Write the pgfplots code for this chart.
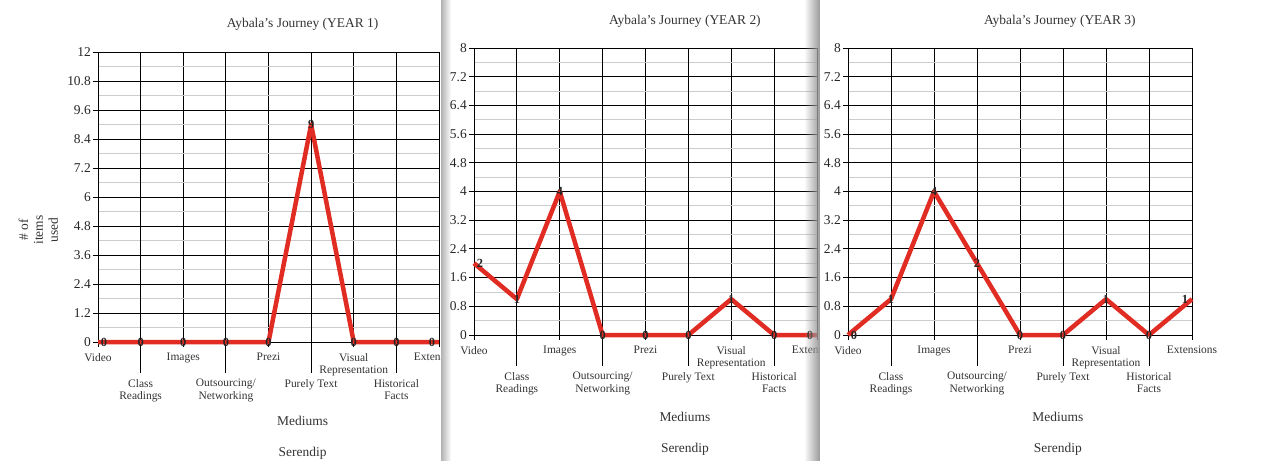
\documentclass[border=0pt]{standalone}
\usepackage{fontspec}
\setmainfont{Liberation Serif}
\usepackage{pgfplots}
\pgfplotsset{compat=1.18}
\usepackage{pgfplotstable}
\usetikzlibrary{fadings}

\definecolor{linered}{RGB}{224,44,34}

% dx = horizontal shift of the value label (bp)
\pgfplotstableread{
x y dx
0 0 6
1 0 0
2 0 0
3 0 0
4 0 0
5 9 0
6 0 0
7 0 0
8 0 -7
}\yearone

\pgfplotstableread{
x y dx
0 2 6
1 1 0
2 4 0
3 0 0
4 0 0
5 0 0
6 1 0
7 0 0
8 0 -7
}\yeartwo

\pgfplotstableread{
x y dx
0 0 6
1 1 0
2 4 0
3 2 0
4 0 0
5 0 0
6 1 0
7 0 0
8 1 -7
}\yearthree

\pgfplotsset{
  journey/.style={
    scale only axis, anchor=south west, clip=false,
    xmin=0, xmax=8, ymin=0,
    axis line style={black, line width=0.9bp},
    every tick/.style={black, line width=0.9bp},
    tick align=outside, xtick pos=bottom, ytick pos=left,
    major tick length=5bp, minor tick length=0bp,
    xtick={0,2,4,6,8},
    xticklabels={Video,Images,Prezi,Visual\\Representation,Extensions},
    extra x ticks={1,3,5,7},
    extra x tick labels={Class\\Readings,Outsourcing/\\Networking,Purely Text,Historical\\Facts},
    extra x tick style={major tick length=31bp},
    xticklabel style={font=\fontsize{11.5}{12.3}\selectfont, align=center, text=black!80,
      inner sep=1bp, yshift=-5bp},
    yticklabel style={font=\fontsize{13.5}{13.5}\selectfont, text=black!85, inner sep=2bp},
    /pgf/number format/assume math mode=true,
    xmajorgrids, ymajorgrids, yminorgrids, minor y tick num=1,
    major grid style={black, line width=0.9bp},
    minor grid style={black!20, line width=0.8bp},
    title style={font=\fontsize{13.5}{14}\selectfont, text=black!80, anchor=base},
    xlabel style={font=\fontsize{13.5}{14}\selectfont, text=black!80, anchor=center},
  },
  redline/.style={linered, line width=4.5bp, line join=round, no markers,
    nodes near coords, point meta=\thisrow{y},
    visualization depends on={\thisrow{dx}\as\dx},
    every node near coord/.append style={anchor=center, xshift={\dx*1bp},
      font=\bfseries\fontsize{12.5}{12.5}\selectfont, text=black!85, inner sep=0pt}},
}

\begin{document}
\begin{tikzpicture}
\useasboundingbox (0,0) rectangle (1265bp,-461bp);

% YEAR 1
\begin{axis}[journey,
    at={(98bp,-342bp)}, width=341bp, height=290bp,
    ymax=12, ytick={0,1.2,2.4,3.6,4.8,6,7.2,8.4,9.6,10.8,12},
    title={Aybala's Journey (YEAR 1)}, title style={at={(0.6,1.064)}},
    xlabel={Mediums}, xlabel style={at={(0.6,-0.272)}},
    ylabel={\# of\\items\\used},
    ylabel style={at={(-0.175,0.386)}, anchor=center, align=center,
      font=\fontsize{13.5}{15}\selectfont, text=black!80},
]
\addplot[redline] table[x=x, y=y] {\yearone};
\node[font=\fontsize{13.5}{14}\selectfont, text=black!80] at (rel axis cs:0.6,-0.383) {Serendip};
\end{axis}

% second sheet
\fill[white] (441bp,0) rectangle (820bp,-461bp);
\fill[black!30, path fading=east] (441bp,0) rectangle (451bp,-461bp);

% YEAR 2
\begin{axis}[journey,
    at={(474bp,-335bp)}, width=343bp, height=287bp,
    ymax=8, ytick={0,0.8,1.6,2.4,3.2,4,4.8,5.6,6.4,7.2,8},
    title={Aybala's Journey (YEAR 2)}, title style={at={(0.615,1.062)}},
    xlabel={Mediums}, xlabel style={at={(0.615,-0.286)}},
]
\addplot[redline] table[x=x, y=y] {\yeartwo};
\node[font=\fontsize{13.5}{14}\selectfont, text=black!80] at (rel axis cs:0.615,-0.397) {Serendip};
\end{axis}

% third sheet
\fill[white] (820bp,0) rectangle (1265bp,-461bp);
\fill[black!40, path fading=west] (804bp,0) rectangle (820bp,-461bp);

% YEAR 3
\begin{axis}[journey,
    at={(848bp,-335bp)}, width=344bp, height=287bp,
    ymax=8, ytick={0,0.8,1.6,2.4,3.2,4,4.8,5.6,6.4,7.2,8},
    title={Aybala's Journey (YEAR 3)}, title style={at={(0.616,1.062)}},
    xlabel={Mediums}, xlabel style={at={(0.61,-0.286)}},
]
\addplot[redline] table[x=x, y=y] {\yearthree};
\node[font=\fontsize{13.5}{14}\selectfont, text=black!80] at (rel axis cs:0.61,-0.397) {Serendip};
\end{axis}
\end{tikzpicture}
\end{document}
